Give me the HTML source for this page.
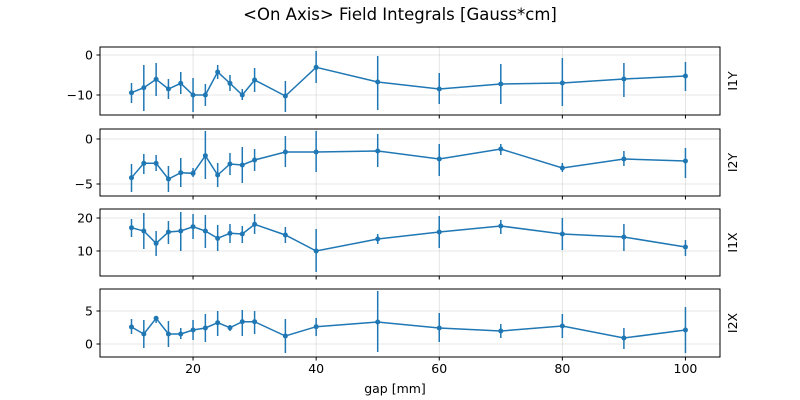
<!DOCTYPE html><html><head><style>body{margin:0;background:#fff}svg{display:block;font-family:"DejaVu Sans","Liberation Sans",sans-serif}</style></head><body>
<svg id="s" width="800" height="400" xmlns="http://www.w3.org/2000/svg">
<rect width="800" height="400" fill="#fff"/>
<text x="400" y="20" font-size="16.5" text-anchor="middle">&lt;On Axis&gt; Field Integrals [Gauss*cm]</text>
<text x="395" y="393" font-size="12.5" text-anchor="middle">gap [mm]</text>
</svg>
<script>
const s=document.getElementById('s'),NS='http://www.w3.org/2000/svg';
function el(t,a,txt){const e=document.createElementNS(NS,t);for(const k in a)e.setAttribute(k,a[k]);if(txt)e.textContent=txt;s.appendChild(e);return e;}
const gx=[10,12,14,16,18,20,22,24,26,28,30,35,40,50,60,70,80,90,100];
const X=g=>131.5+(g-10)*6.155;
const P=[
{t:47,b:115,lab:'I1Y',ticks:[[55,'0'],[95,'−10']],
pts:[[92.7,83,103],[87.7,65,111],[79.3,63,96],[89,79,99],[83.3,72,94],[95,78,112],[95,84,106],[72,65,79],[83.3,75,91],[95,89,100],[80,68,92],[96,81,112],[67.3,51,83],[82,56,110],[89,73,104],[84,64,104],[83,58,106],[79,63,97],[76,62,91]]},
{t:129,b:196,lab:'I2Y',ticks:[[139,'0'],[184,'−5']],
pts:[[177.7,164,192],[163.3,154,174],[163.3,155,171],[179,166,192],[172.7,158,187],[173.3,168,177],[155.7,131,179],[175,163,187],[164,153,175],[165,147,183],[160,149,171],[152,136,167],[152,131,172],[151,134,167],[159,144,176],[149,144,155],[168,163,172],[159,151,166],[161,148,178]]},
{t:209,b:276,lab:'I1X',ticks:[[218,'20'],[251,'10']],
pts:[[227.7,219,237],[231,213,249],[243.3,231,256],[232,221,244],[231,212,251],[226.7,214,239],[231,215,248],[238.3,225,251],[233.3,224,243],[234,226,243],[224.3,214,234],[235,227,243],[251,229,272],[239,234,244],[232,216,248],[226,220,234],[234,218,250],[237,224,251],[247,240,256]]},
{t:289,b:357,lab:'I2X',ticks:[[311,'5'],[344,'0']],
pts:[[327,319,334],[334,320,348],[318.3,316,323],[334,321,347],[334,328,339],[330,320,340],[328,314,342],[322.7,311,336],[327.7,325,331],[321.7,310,336],[321.7,311,334],[336,319,353],[326.7,318,336],[322,291,352],[328,313,342],[331,324,338],[326,314,338],[338,328,349],[330,307,353]]}
];
const C='#1f77b4';
P.forEach((p,i)=>{
 [20,40,60,80,100].forEach(g=>{el('line',{x1:X(g),x2:X(g),y1:p.t,y2:p.b,stroke:'#b0b0b0','stroke-width':0.8,'stroke-opacity':0.4});
  el('line',{x1:X(g),x2:X(g),y1:p.b,y2:p.b+3.5,stroke:'#000','stroke-width':1});
  if(i==3)el('text',{x:X(g),y:p.b+16,'font-size':12.5,'text-anchor':'middle'},String(g));});
 p.ticks.forEach(([y,l])=>{el('line',{x1:100,x2:720,y1:y,y2:y,stroke:'#b0b0b0','stroke-width':0.8,'stroke-opacity':0.4});
  el('line',{x1:96.5,x2:100,y1:y,y2:y,stroke:'#000','stroke-width':1});
  el('text',{x:93,y:y+4.5,'font-size':12.5,'text-anchor':'end'},l);});
 p.pts.forEach(([y,a,b],j)=>el('line',{x1:X(gx[j]),x2:X(gx[j]),y1:a,y2:b,stroke:C,'stroke-width':1.5}));
 el('polyline',{points:p.pts.map((q,j)=>X(gx[j])+','+q[0]).join(' '),fill:'none',stroke:C,'stroke-width':1.5});
 p.pts.forEach((q,j)=>el('circle',{cx:X(gx[j]),cy:q[0],r:2.5,fill:C}));
 el('rect',{x:100,y:p.t,width:620,height:p.b-p.t,fill:'none',stroke:'#000','stroke-width':1});
 const cy=(p.t+p.b)/2;
 el('text',{x:737,y:cy,'font-size':12.5,'text-anchor':'middle',transform:`rotate(-90 737 ${cy})`},p.lab);
});
</script>
</body></html>
